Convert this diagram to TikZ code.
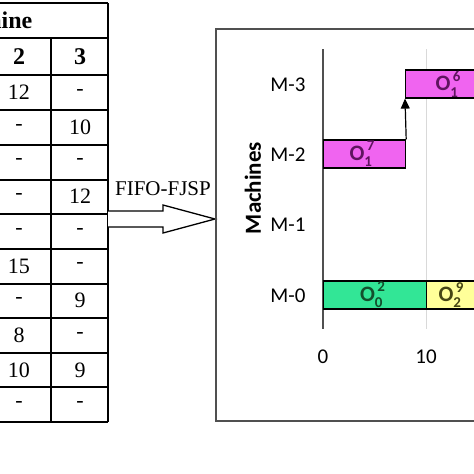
\documentclass[tikz,border=0pt]{standalone}
\usepackage{fontspec}
\setmainfont{Liberation Serif}
\newfontfamily\carlito{Carlito}
\usetikzlibrary{arrows.meta}
\definecolor{barmag}{RGB}{240,100,240}
\definecolor{txtmag}{RGB}{95,20,95}
\definecolor{bargrn}{RGB}{50,230,150}
\definecolor{txtgrn}{RGB}{20,80,45}
\definecolor{baryel}{RGB}{255,255,153}
\definecolor{txtyel}{RGB}{70,70,20}
\definecolor{framegray}{RGB}{80,80,80}
\newcommand{\opn}[3]{{\carlito\bfseries\fontsize{22}{22}\selectfont\color{#3}O\rlap{\raisebox{0.42em}{\fontsize{15}{15}\selectfont\,#2}}\raisebox{-0.3em}{\fontsize{15}{15}\selectfont #1}\hphantom{\fontsize{15}{15}\selectfont 0}}}
\tikzset{
  tline/.style={line width=1.4pt, black},
  cell/.style={font=\fontsize{22}{22}\selectfont, inner sep=0pt},
  hcell/.style={font=\fontsize{24}{24}\selectfont\bfseries, inner sep=0pt},
  mlabel/.style={font=\carlito\fontsize{21}{21}\selectfont, inner sep=0pt},
  bar/.style={draw=black, line width=1.2pt, minimum height=28pt, inner sep=0pt, anchor=west},
}
\begin{document}
\begin{tikzpicture}[x=1pt,y=-1pt]
\useasboundingbox (0,0) rectangle (474,474);
\clip (0,0) rectangle (474,474);
% ---- table ----
\foreach \y in {3,38,75,110,145,180,214,249,284,318,353,387,422}
  \draw[tline] (-10,\y) -- (108,\y);
\draw[tline] (108,3) -- (108,422);
\draw[tline] (51,38) -- (51,422);
\node[hcell, anchor=east] (hdr) at (32.5,20) {Machine};
\node[hcell] (h2) at (19,57) {2};
\node[hcell] (h3) at (80,57) {3};
\foreach \a/\b [count=\i] in {12/-,-/10,-/-,-/12,-/-,15/-,-/9,8/-,10/9,-/-} {
  \pgfmathsetmacro{\yy}{75+34.7*(\i-0.5)}
  \node[cell] (c2-\i) at (19,\yy) {\a};
  \node[cell] (c3-\i) at (80,\yy) {\b};
}
% ---- big arrow ----
\node[inner sep=0pt, font=\fontsize{21}{21}\selectfont] (fifo) at (163,188.5) {FIFO-FJSP};
\draw[line width=1.3pt, fill=white] (108,211) -- (163,211) -- (163,205) -- (215,219) -- (163,233) -- (163,227) -- (108,227);
% ---- chart frame ----
\draw[line width=1.5pt, framegray] (216,29) rectangle (520,421);
\draw[line width=0.8pt, black!15] (426,49) -- (426,329);
\draw[line width=1.2pt, framegray] (323,49) -- (323,329);
\node[mlabel] (m3) at (288,85) {M-3};
\node[mlabel] (m2) at (288,155) {M-2};
\node[mlabel] (m1) at (288,225) {M-1};
\node[mlabel] (m0) at (288,296) {M-0};
\node[font=\carlito\bfseries\fontsize{23}{23}\selectfont, rotate=90, inner sep=0pt] (mach) at (253,188) {Machines};
\node[mlabel] (t0) at (323,357) {0};
\node[mlabel] (t10) at (426,357) {10};
% bars
\node[bar, fill=barmag, minimum width=82pt] (o17) at (323,154) {\opn{1}{7}{txtmag}};
\node[bar, fill=barmag, minimum width=90pt] (o16) at (405,84) {\opn{1}{6}{txtmag}};
\node[bar, fill=bargrn, minimum width=103pt] (o02) at (323,295) {\opn{0}{2}{txtgrn}};
\node[bar, fill=baryel, minimum width=54pt] (o29) at (426,295) {\opn{2}{9}{txtyel}};
\draw[line width=1.2pt, -{Triangle[width=9pt,length=10pt]}] (o17.north east) -- (o16.south west);
\end{tikzpicture}
\end{document}
